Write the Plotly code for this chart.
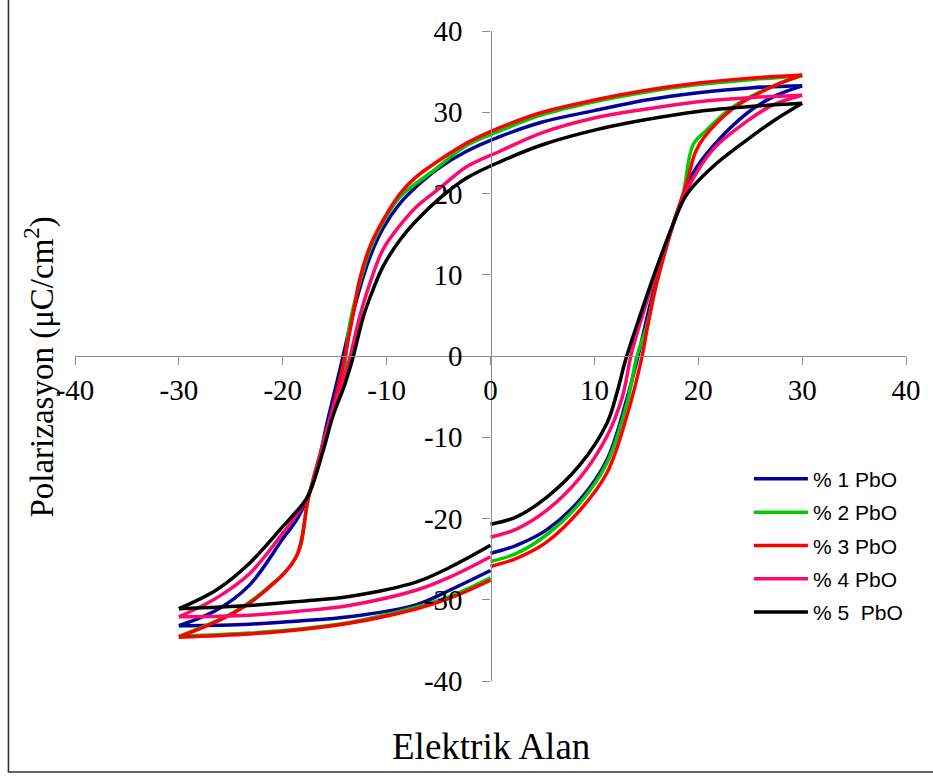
import plotly.graph_objects as go

# ---- data (E in kV/cm, P in uC/cm2) ----
series_names = ["% 1 PbO", "% 2 PbO", "% 3 PbO", "% 4 PbO", "% 5 \u00a0PbO"]
series_colors = ["#00009C", "#00CC00", "#FF0000", "#FF0A6C", "#000000"]

# % 1 PbO
s1_up_E = [0, 2.5, 5.4, 8.6, 11.2, 13.1, 14.3, 15.5, 17.6, 19.5, 21.4, 24.7, 27.2, 30]
s1_up_P = [-24.3, -23.3, -21.4, -17.7, -12.8, -5.4, 0.5, 7.0, 16.3, 22.5, 25.8, 29.9, 31.9, 33.25]
s1_dn_E = [30, 25, 20, 15, 10, 5, 0.9, -2.3, -4.9, -7.1, -8.7, -10.35, -11.6, -12.9, -14.5, -15.6, -17.1, -18.5, -20.0, -23.2, -26.4, -30]
s1_dn_P = [33.25, 33.0, 32.4, 31.5, 30.2, 28.8, 27.0, 25.2, 23.2, 20.9, 18.8, 15.7, 12.2, 6.9, -1.7, -7.5, -15.7, -19.8, -22.5, -28.2, -31.3, -33.2]
s1_rt_E = [-30, -23.2, -18.4, -13.6, -7.1, -3.9, 0]
s1_rt_P = [-33.2, -33.0, -32.6, -32.1, -30.6, -28.8, -26.4]

# % 2 PbO
s2_up_E = [0, 2.5, 5.4, 8.6, 11.2, 13.1, 14.1, 15.0, 16.0, 17.6, 18.55, 19.5, 20.8, 23.4, 27.2, 30]
s2_up_P = [-25.3, -24.3, -22.0, -18.1, -13.2, -6.0, 0, 3.5, 9.0, 16.3, 20.0, 26.0, 27.8, 30.7, 33.2, 34.5]
s2_dn_E = [30, 25, 20, 15, 10, 5, 0.9, -2.3, -5.5, -8.7, -10.35, -11.6, -12.6, -13.6, -14.1, -14.8, -15.5, -17.5, -18.7, -21.6, -24.8, -30]
s2_dn_P = [34.5, 34.0, 33.4, 32.5, 31.3, 29.7, 27.7, 25.9, 22.8, 19.6, 16.4, 13.1, 9.0, 3.6, -1.7, -5.0, -8.0, -17.3, -24.7, -28.7, -31.6, -34.5]
s2_rt_E = [-30, -23.2, -18.4, -13.6, -7.1, -3.9, 0]
s2_rt_P = [-34.5, -34.1, -33.6, -32.8, -30.9, -29.6, -27.3]

# % 3 PbO
s3_up_E = [0, 2.5, 5.4, 8.6, 11.2, 13.1, 14.6, 15.0, 16.0, 17.6, 18.9, 19.7, 20.5, 23.4, 27.2, 30]
s3_up_P = [-25.9, -24.9, -22.9, -19.0, -14.4, -7.5, 0, 2.8, 9.0, 16.3, 21.3, 25.0, 26.8, 30.5, 33.2, 34.6]
s3_dn_E = [30, 25, 20, 15, 10, 5, 0.9, -2.3, -5.5, -7.1, -8.7, -10.35, -11.6, -12.6, -13.2, -13.9, -14.6, -15.4, -17.5, -18.7, -21.6, -24.8, -30]
s3_dn_P = [34.6, 34.2, 33.6, 32.7, 31.5, 30.0, 28.1, 26.2, 23.6, 22.1, 20.0, 16.7, 13.5, 9.4, 5.3, 0.7, -3.4, -7.5, -17.3, -24.7, -28.8, -31.7, -34.6]
s3_rt_E = [-30, -23.2, -18.4, -13.6, -7.1, -3.9, 0]
s3_rt_P = [-34.6, -34.2, -33.7, -32.9, -31.1, -29.8, -27.6]

# % 4 PbO
s4_up_E = [0, 2.5, 5.4, 8.6, 11.2, 12.7, 13.6, 15.0, 16.0, 17.6, 18.9, 21.4, 24.7, 27.2, 30]
s4_up_P = [-22.3, -21.3, -19.0, -15.0, -9.9, -5.0, 0.5, 6.5, 10.5, 16.3, 20.4, 25.4, 28.9, 30.9, 32.1]
s4_dn_E = [30, 25, 20, 15, 10, 5, 0.9, -2.3, -4.9, -7.1, -8.7, -10.35, -11.6, -12.6, -13.6, -14.3, -15.4, -17.5, -18.8, -20.0, -23.2, -26.4, -30]
s4_dn_P = [32.1, 31.8, 31.3, 30.4, 29.3, 27.5, 25.2, 23.3, 20.65, 18.4, 16.1, 13.1, 9.0, 4.8, -0.5, -3.4, -7.5, -17.0, -19.8, -21.8, -26.8, -29.8, -32.1]
s4_rt_E = [-30, -23.2, -18.4, -13.6, -7.1, -3.9, 0]
s4_rt_P = [-32.1, -31.9, -31.4, -30.7, -28.8, -27.2, -24.7]

# % 5 PbO
s5_up_E = [0, 2.5, 5.4, 8.6, 11.2, 12.2, 13.0, 14.3, 15.7, 17.6, 18.9, 21.4, 24.7, 27.2, 30]
s5_up_P = [-20.7, -19.8, -17.4, -13.4, -8.3, -4.4, -0.5, 4.6, 9.8, 16.3, 19.9, 23.3, 26.6, 28.9, 31.1]
s5_dn_E = [30, 25, 20, 15, 10, 5, 0.9, -2.3, -4.9, -7.1, -8.7, -10.35, -11.6, -12.3, -13.2, -14.0, -15.2, -16.1, -17.6, -19.0, -20.0, -23.2, -26.4, -30]
s5_dn_P = [31.1, 30.7, 30.1, 29.1, 27.8, 26.0, 23.9, 21.9, 19.4, 16.7, 14.3, 11.0, 7.2, 4.6, 0.0, -3.4, -7.5, -11.6, -17.3, -19.6, -21.0, -25.5, -28.8, -31.1]
s5_rt_E = [-30, -23.2, -18.4, -13.6, -7.1, -3.9, 0]
s5_rt_P = [-31.1, -30.7, -30.2, -29.6, -27.8, -26.0, -23.3]

tick_vals = [-40, -30, -20, -10, 0, 10, 20, 30, 40]
tick_text = ["-40", "-30", "-20", "-10", "0", "10", "20", "30", "40"]

x_title = "Elektrik Alan"
y_title = "Polarizasyon (\u03bcC/cm<sup>2</sup>)"

branches = [
    (s1_up_E, s1_up_P, s1_dn_E, s1_dn_P, s1_rt_E, s1_rt_P),
    (s2_up_E, s2_up_P, s2_dn_E, s2_dn_P, s2_rt_E, s2_rt_P),
    (s3_up_E, s3_up_P, s3_dn_E, s3_dn_P, s3_rt_E, s3_rt_P),
    (s4_up_E, s4_up_P, s4_dn_E, s4_dn_P, s4_rt_E, s4_rt_P),
    (s5_up_E, s5_up_P, s5_dn_E, s5_dn_P, s5_rt_E, s5_rt_P),
]

fig = go.Figure()
for i, (name, color, b) in enumerate(zip(series_names, series_colors, branches)):
    ue, up, de, dp, re_, rp = b
    xs = list(ue) + [None] + list(de) + [None] + list(re_)
    ys = list(up) + [None] + list(dp) + [None] + list(rp)
    fig.add_trace(go.Scatter(
        x=xs, y=ys, mode="lines", name=name,
        line=dict(color=color, width=3.5, shape="spline", smoothing=1.0),
        connectgaps=False, legendgroup=f"g{i}",
    ))

serif = "Liberation Serif"
axis_common = dict(
    range=[-40, 40], tickvals=tick_vals, ticktext=tick_text,
    showgrid=False, zeroline=False, showline=True, linecolor="#8C8C8C", linewidth=1.3,
    ticks="outside", ticklen=8, tickcolor="#8C8C8C", tickwidth=1.3,
    tickfont=dict(family=serif, size=29, color="black"),
    anchor="free", position=0.5, fixedrange=True, automargin=False,
)
fig.update_layout(
    width=933, height=776,
    margin=dict(l=75, r=27, t=31, b=95, autoexpand=False),
    paper_bgcolor="white", plot_bgcolor="white",
    xaxis=dict(**axis_common, ticklabelstandoff=0),
    yaxis=dict(**axis_common, ticklabelstandoff=14),
    showlegend=True,
    legend=dict(
        x=0.811, y=0.342, xanchor="left", yanchor="top",
        font=dict(family="Liberation Sans", size=21, color="black"),
        bgcolor="rgba(0,0,0,0)", itemwidth=54, tracegroupgap=3,
    ),
    annotations=[
        dict(text=x_title, x=0.5, y=-0.1, xref="paper", yref="paper",
             showarrow=False, xanchor="center", yanchor="middle",
             font=dict(family=serif, size=37, color="black")),
        dict(text=y_title, x=-0.0427, y=0.483, xref="paper", yref="paper",
             showarrow=False, xanchor="center", yanchor="middle", textangle=-90,
             font=dict(family=serif, size=33, color="black")),
    ],
    shapes=[
        dict(type="rect", xref="paper", yref="paper",
             x0=-0.0801, x1=1.05, y0=-0.14, y1=1.07,
             line=dict(color="#303030", width=1.6), fillcolor="rgba(0,0,0,0)", layer="above"),
    ],
)

fig.write_html(
    "out.html",
    config={"displayModeBar": False},
    post_script="document.body.style.margin='0px';document.body.style.overflow='hidden';",
)
